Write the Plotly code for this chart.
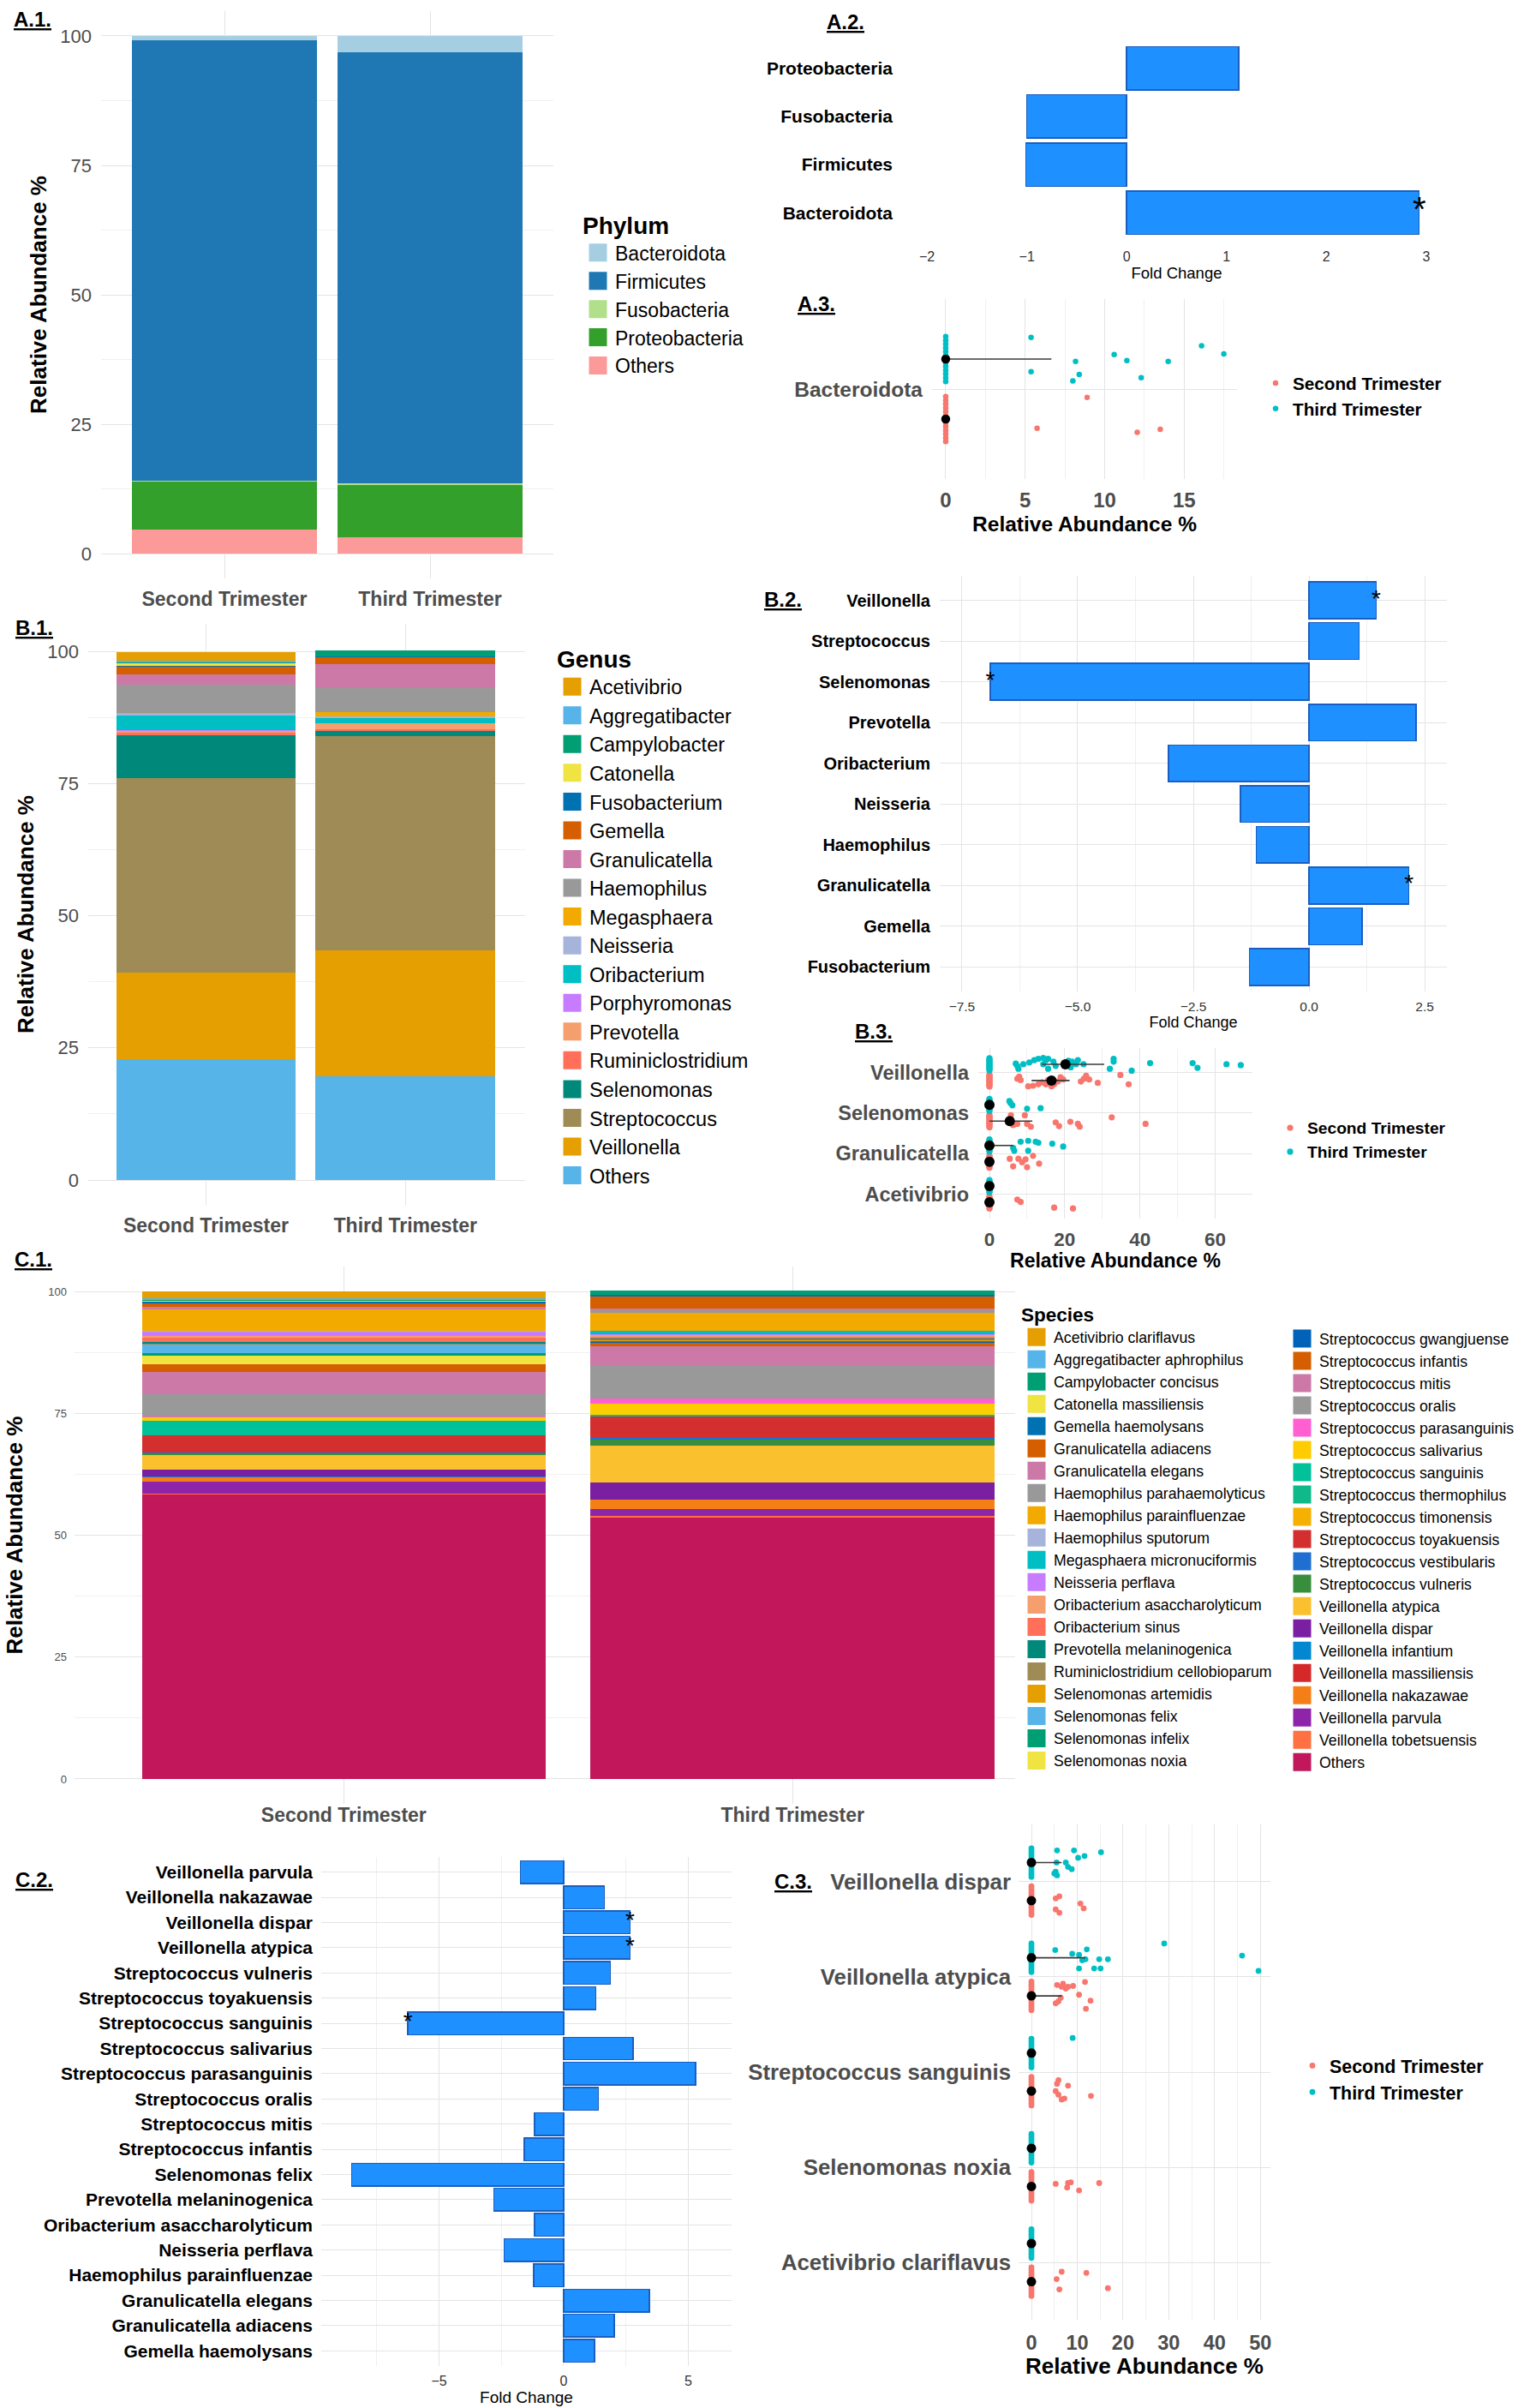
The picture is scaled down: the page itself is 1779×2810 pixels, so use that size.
import plotly.graph_objects as go

W, H = 1779, 2810
FONT = "Liberation Sans, Arial, Helvetica, sans-serif"
GRAY = "#4D4D4D"
GRID = "#E4E4E4"
GRID_MINOR = "#F0F0F0"
BAR_BLUE = "#1E90FF"
BAR_EDGE = "#1A5FC0"
SECOND_COLOR = "#F8766D"
THIRD_COLOR = "#00BFC4"

TRIMESTERS = ["Second Trimester", "Third Trimester"]

# ---------------- A.1 phylum composition ----------------
PHYLA = ["Bacteroidota", "Firmicutes", "Fusobacteria", "Proteobacteria", "Others"]
PHYLUM_COLORS = ["#A6CEE3", "#1F78B4", "#B2DF8A", "#33A02C", "#FB9A99"]
PHYLUM_SECOND = [0.9, 85.0, 0.1, 9.4, 4.6]
PHYLUM_THIRD = [3.2, 83.3, 0.2, 10.2, 3.1]

# ---------------- A.2 phylum fold change ----------------
PHYLUM_FC_NAMES = ["Proteobacteria", "Fusobacteria", "Firmicutes", "Bacteroidota"]
PHYLUM_FC = [1.12, -1.00, -1.01, 2.93]
PHYLUM_SIG = [False, False, False, True]

# ---------------- B.1 genus composition ----------------
GENERA = ["Acetivibrio", "Aggregatibacter", "Campylobacter", "Catonella", "Fusobacterium",
          "Gemella", "Granulicatella", "Haemophilus", "Megasphaera", "Neisseria",
          "Oribacterium", "Porphyromonas", "Prevotella", "Ruminiclostridium",
          "Selenomonas", "Streptococcus", "Veillonella", "Others"]
GENUS_COLORS = ["#E69F00", "#56B4E9", "#009E73", "#F0E442", "#0072B2", "#D55E00",
                "#CC79A7", "#999999", "#F2A900", "#A6B4DC", "#00BFC4", "#C77CFF",
                "#F59E6E", "#FF6F59", "#00897B", "#9E8B55", "#E69F00", "#56B4E9"]
GENUS_SECOND = [1.6, 0.3, 0.2, 0.5, 0.2, 1.4, 2.0, 5.3, 0.1, 0.4, 2.8, 0.1, 0.4, 0.5,
                8.1, 36.8, 16.4, 22.8]
GENUS_THIRD = [0.0, 0.0, 1.0, 0.0, 0.1, 1.4, 4.5, 4.6, 0.8, 0.3, 1.0, 0.0, 1.1, 0.3,
               1.1, 40.4, 23.9, 19.6]

# ---------------- B.2 genus fold change ----------------
GENUS_FC_NAMES = ["Veillonella", "Streptococcus", "Selenomonas", "Prevotella", "Oribacterium",
                  "Neisseria", "Haemophilus", "Granulicatella", "Gemella", "Fusobacterium"]
GENUS_FC = [1.45, 1.08, -6.89, 2.31, -3.04, -1.48, -1.14, 2.16, 1.15, -1.29]
GENUS_SIG = [True, False, True, False, False, False, False, True, False, False]

# ---------------- C.1 species composition ----------------
SPECIES = ["Acetivibrio clariflavus", "Aggregatibacter aphrophilus", "Campylobacter concisus",
           "Catonella massiliensis", "Gemella haemolysans", "Granulicatella adiacens",
           "Granulicatella elegans", "Haemophilus parahaemolyticus", "Haemophilus parainfluenzae",
           "Haemophilus sputorum", "Megasphaera micronuciformis", "Neisseria perflava",
           "Oribacterium asaccharolyticum", "Oribacterium sinus", "Prevotella melaninogenica",
           "Ruminiclostridium cellobioparum", "Selenomonas artemidis", "Selenomonas felix",
           "Selenomonas infelix", "Selenomonas noxia", "Streptococcus gwangjuense",
           "Streptococcus infantis", "Streptococcus mitis", "Streptococcus oralis",
           "Streptococcus parasanguinis", "Streptococcus salivarius", "Streptococcus sanguinis",
           "Streptococcus thermophilus", "Streptococcus timonensis", "Streptococcus toyakuensis",
           "Streptococcus vestibularis", "Streptococcus vulneris", "Veillonella atypica",
           "Veillonella dispar", "Veillonella infantium", "Veillonella massiliensis",
           "Veillonella nakazawae", "Veillonella parvula", "Veillonella tobetsuensis", "Others"]
SPECIES_COLORS = ["#E69F00", "#56B4E9", "#009E73", "#F0E442", "#0072B2", "#D55E00",
                  "#CC79A7", "#999999", "#F2A900", "#A6B4DC", "#00BFC4", "#C77CFF",
                  "#F59E6E", "#FF6F59", "#00897B", "#9E8B55", "#E69F00", "#56B4E9",
                  "#009E73", "#F0E442", "#0062B8", "#D55E00", "#CC79A7", "#999999",
                  "#FF5FD0", "#FFCC00", "#00C19A", "#10B98A", "#F5B000", "#D32F2F",
                  "#1F6FD1", "#388E3C", "#FBC02D", "#7B1FA2", "#0288D1", "#D62828",
                  "#F57F17", "#8E24AA", "#FF7043", "#C2185B"]
SPECIES_SECOND = [1.4, 0.2, 0.2, 0.3, 0.2, 0.8, 0.5, 0.05, 4.5, 0.05, 0.05, 0.8, 0.3, 1.0,
                  0.4, 0.05, 0.05, 1.8, 0.6, 1.6, 0.05, 1.7, 4.5, 4.55, 0.15, 0.8, 2.7, 0.05,
                  0.05, 3.7, 0.05, 0.5, 2.9, 1.4, 0.05, 0.05, 1.0, 2.5, 0.05, 58.4]
SPECIES_THIRD = [0.0, 0.0, 0.8, 0.0, 0.2, 2.6, 0.4, 0.5, 3.7, 0.0, 0.6, 0.2, 0.4, 0.3,
                 0.1, 0.3, 0.1, 0.0, 0.2, 0.05, 0.05, 0.9, 3.8, 6.9, 1.1, 2.2, 0.1, 0.1,
                 0.1, 4.3, 0.5, 1.2, 7.6, 3.5, 0.0, 0.0, 2.0, 1.3, 0.3, 53.7]

# ---------------- C.2 species fold change ----------------
SPECIES_FC_NAMES = ["Veillonella parvula", "Veillonella nakazawae", "Veillonella dispar",
                    "Veillonella atypica", "Streptococcus vulneris", "Streptococcus toyakuensis",
                    "Streptococcus sanguinis", "Streptococcus salivarius",
                    "Streptococcus parasanguinis", "Streptococcus oralis", "Streptococcus mitis",
                    "Streptococcus infantis", "Selenomonas felix", "Prevotella melaninogenica",
                    "Oribacterium asaccharolyticum", "Neisseria perflava",
                    "Haemophilus parainfluenzae", "Granulicatella elegans",
                    "Granulicatella adiacens", "Gemella haemolysans"]
SPECIES_FC = [-1.74, 1.64, 2.66, 2.66, 1.87, 1.29, -6.25, 2.78, 5.29, 1.39, -1.16, -1.58,
              -8.51, -2.80, -1.16, -2.39, -1.20, 3.44, 2.03, 1.24]
SPECIES_SIG = [False, False, True, True, False, False, True, False, False, False, False,
               False, False, False, False, False, False, False, False, False]

# ---------------- dot plots (A.3, B.3, C.3) ----------------
# samples with zero abundance, jitter offsets (category units)
ZERO_JITTER = [-0.15, -0.125, -0.1, -0.075, -0.05, -0.025, 0.0, 0.025, 0.05, 0.075, 0.1,
               0.125, 0.15]

A3_CATS = ["Bacteroidota"]
A3_SECOND_VALUES = [[8.9, 5.75, 12.05, 13.5]]
A3_SECOND_JITTER = [[-0.145, 0.061, 0.089, 0.068]]
A3_THIRD_VALUES = [[5.37, 5.37, 8.0, 8.17, 8.4, 10.6, 11.4, 12.3, 14.0, 16.1, 17.5]]
A3_THIRD_JITTER = [[-0.145, 0.084, 0.145, 0.016, 0.103, -0.03, 0.01, 0.124, 0.016, -0.089,
                    -0.035]]
A3_SECOND_SUMMARY = [[0, 0, 0]]          # centre, low, high
A3_THIRD_SUMMARY = [[0, 0, 6.65]]

B3_CATS = ["Veillonella", "Selenomonas", "Granulicatella", "Acetivibrio"]
B3_SECOND_VALUES = [
    [7.4, 7.9, 8.3, 10.3, 11.6, 13.0, 14.0, 15.0, 15.6, 16.5, 17.2, 18.2, 18.9, 19.6, 24.3,
     25.1, 25.7, 26.5, 28.8, 34.8, 37.0],
    [5.7, 6.3, 7.4, 9.4, 10.0, 11.0, 17.6, 18.5, 21.5, 23.5, 24.0, 32.5, 41.5],
    [5.4, 6.3, 7.7, 8.7, 9.6, 10.0, 11.6, 13.2],
    [7.4, 8.3, 17.2, 22.2]]
B3_SECOND_JITTER = [
    [-0.046, -0.095, -0.011, 0.143, 0.129, 0.094, 0.045, 0.094, -0.011, 0.143, 0.094, 0.024,
     -0.081, -0.025, 0.024, -0.046, -0.116, -0.025, 0.059, -0.137, 0.094],
    [-0.144, 0.1, 0.066, -0.144, 0.066, 0.136, 0.031, 0.122, 0.017, 0.066, 0.136, -0.095,
     0.066],
    [-0.074, 0.115, -0.074, 0.01, -0.06, 0.136, -0.144, 0.045],
    [-0.067, -0.011, 0.129, 0.15]]
B3_THIRD_VALUES = [
    [7.0, 7.4, 7.7, 9.0, 10.6, 11.9, 13.0, 14.3, 15.0, 15.6, 14.3, 15.6, 17.0, 17.6, 21.0,
     21.6, 22.0, 23.0, 23.5, 25.0, 32.0, 33.0, 33.0, 37.8, 42.7, 54.0, 55.3, 63.0, 66.8],
    [5.3, 5.6, 6.1, 10.0, 13.6],
    [6.3, 6.6, 8.3, 10.3, 12.3, 13.0, 10.3, 16.7, 19.6],
    []]
B3_THIRD_JITTER = [
    [-0.017, 0.04, 0.11, 0.0, -0.045, -0.10, -0.136, -0.157, -0.10, -0.136, 0.0, 0.11, -0.066,
     0.04, -0.087, 0.074, -0.066, 0.0, -0.10, 0.0, 0.11, -0.136, -0.066, 0.158, -0.03, -0.03,
     0.088, 0.0, 0.02],
    [-0.094, -0.045, 0.011, 0.095, 0.081],
    [0.06, 0.13, -0.094, -0.115, -0.094, -0.066, 0.13, -0.045, 0.025],
    []]
B3_SECOND_SUMMARY = [[16.5, 11.2, 21.3], [5.4, 0, 11.4], [0, 0, 0], [0, 0, 0]]
B3_THIRD_SUMMARY = [[20.2, 14.0, 30.5], [0, 0, 0], [0, 0, 6.3], [0, 0, 0]]

C3_CATS = ["Veillonella dispar", "Veillonella atypica", "Streptococcus sanguinis",
           "Selenomonas noxia", "Acetivibrio clariflavus"]
C3_SECOND_VALUES = [
    [5.3, 6.1, 10.7, 11.4, 5.3, 6.1],
    [5.6, 6.6, 6.9, 7.5, 8.0, 9.1, 11.7, 10.4, 12.9, 11.9, 6.4, 5.9, 5.3],
    [5.9, 5.6, 8.0, 5.3, 5.9, 6.6, 7.2, 13.0],
    [5.3, 8.0, 8.6, 7.8, 10.4, 14.8],
    [6.6, 12.0, 5.5, 6.1, 16.7]]
C3_SECOND_JITTER = [
    [-0.023, -0.046, 0.031, 0.081, 0.092, 0.127],
    [-0.115, -0.096, -0.127, -0.077, -0.096, -0.104, -0.146, -0.012, 0.05, 0.135, 0.019,
     0.058, 0.077],
    [-0.115, -0.077, -0.058, 0.0, 0.038, 0.088, 0.077, 0.05],
    [-0.027, -0.035, -0.042, 0.012, 0.042, -0.035],
    [-0.104, -0.092, -0.027, 0.081, 0.069]]
C3_THIRD_VALUES = [
    [5.6, 9.3, 10.2, 11.6, 15.2, 5.5, 7.5, 8.0, 8.8, 5.3, 5.6, 5.0],
    [29.0, 5.2, 8.9, 10.4, 12.1, 11.1, 11.8, 14.8, 16.7, 46.0, 10.4, 13.7, 15.1, 49.6],
    [9.0],
    [],
    []]
C3_THIRD_JITTER = [
    [-0.127, -0.127, -0.05, -0.069, -0.108, 0.0, 0.0, 0.046, 0.069, 0.096, 0.135, 0.115],
    [-0.15, -0.081, -0.042, -0.031, -0.088, 0.027, 0.015, 0.015, 0.015, -0.023, 0.112,
     0.112, 0.112, 0.138],
    [-0.158],
    [],
    []]
C3_SECOND_SUMMARY = [[0, 0, 0], [0, 0, 6.6], [0, 0, 0], [0, 0, 0], [0, 0, 0]]
C3_THIRD_SUMMARY = [[0, 0, 6.6], [0, 0, 11.8], [0, 0, 0], [0, 0, 0], [0, 0, 0]]

PANEL_LABELS = ["A.1.", "A.2.", "A.3.", "B.1.", "B.2.", "B.3.", "C.1.", "C.2.", "C.3."]


# =====================================================================
def fnt(size, color="black", bold=False):
    d = dict(family=FONT, size=size, color=color)
    if bold:
        d["weight"] = "bold"
    return d


def xdom(l, r):
    return [l / W, r / W]


def ydom(t, b):
    return [1 - b / H, 1 - t / H]


def refs(k):
    return ("x", "y") if k == 1 else (f"x{k}", f"y{k}")


fig = go.Figure()


def stacked_panel(k, names, colors, second, third, legends, split=None):
    xr, yr = refs(k)
    for i in reversed(range(len(names))):
        fig.add_trace(go.Bar(
            x=TRIMESTERS, y=[second[i], third[i]], name=names[i], width=0.9,
            marker=dict(color=colors[i], line=dict(width=0)), showlegend=False,
            xaxis=xr, yaxis=yr, hovertemplate="%{x}<br>" + names[i] + ": %{y:.1f}%<extra></extra>"))
    for i in range(len(names)):
        lg = legends[0] if (split is None or i < split) else legends[1]
        fig.add_trace(go.Scatter(
            x=[None], y=[None], mode="markers", name=names[i], legend=lg,
            marker=dict(symbol="square", size=16, color=colors[i],
                        line=dict(color=colors[i], width=5)),
            xaxis=xr, yaxis=yr, hoverinfo="skip"))


def fc_panel(k, names, values, sig, star_size):
    xr, yr = refs(k)
    fig.add_trace(go.Bar(
        y=names, x=values, orientation="h", width=0.9,
        marker=dict(color=BAR_BLUE, line=dict(color=BAR_EDGE, width=1.5)),
        showlegend=False, xaxis=xr, yaxis=yr,
        hovertemplate="%{y}: %{x:.2f}<extra></extra>"))
    sx = [v for v, s in zip(values, sig) if s]
    sy = [n for n, s in zip(names, sig) if s]
    fig.add_trace(go.Scatter(
        x=sx, y=sy, mode="text", text=["*"] * len(sx), textposition="middle center",
        textfont=fnt(star_size), showlegend=False, xaxis=xr, yaxis=yr, hoverinfo="skip"))


def dot_panel(k, cats, sv, sj, tv, tj, ssum, tsum, legend_id, msize=6.5, bsize=11):
    xr, yr = refs(k)
    groups = [("Second Trimester", SECOND_COLOR, 0.2, sv, sj),
              ("Third Trimester", THIRD_COLOR, -0.2, tv, tj)]
    for name, color, dodge, vals, jits in groups:
        xs, ys = [], []
        for i in range(len(cats)):
            for z in ZERO_JITTER:
                xs.append(0.0)
                ys.append(i + dodge + z)
            for v, j in zip(vals[i], jits[i]):
                xs.append(v)
                ys.append(i + dodge + j)
        fig.add_trace(go.Scatter(
            x=xs, y=ys, mode="markers", name=name, legend=legend_id,
            marker=dict(color=color, size=msize), xaxis=xr, yaxis=yr,
            hovertemplate=name + ": %{x:.1f}%<extra></extra>"))
    for summ, dodge in [(ssum, 0.2), (tsum, -0.2)]:
        fig.add_trace(go.Scatter(
            x=[s[0] for s in summ], y=[i + dodge for i in range(len(cats))],
            mode="markers", marker=dict(color="black", size=bsize),
            error_x=dict(type="data", symmetric=False,
                         array=[s[2] - s[0] for s in summ],
                         arrayminus=[s[0] - s[1] for s in summ],
                         color="#3A3A3A", thickness=1.6, width=0),
            showlegend=False, xaxis=xr, yaxis=yr, hoverinfo="skip"))


# ---- traces ----
stacked_panel(1, PHYLA, PHYLUM_COLORS, PHYLUM_SECOND, PHYLUM_THIRD, ["legend"])
fc_panel(2, PHYLUM_FC_NAMES, PHYLUM_FC, PHYLUM_SIG, 40)
dot_panel(3, A3_CATS, A3_SECOND_VALUES, A3_SECOND_JITTER, A3_THIRD_VALUES, A3_THIRD_JITTER,
          A3_SECOND_SUMMARY, A3_THIRD_SUMMARY, "legend4", msize=6.5, bsize=10.5)
stacked_panel(4, GENERA, GENUS_COLORS, GENUS_SECOND, GENUS_THIRD, ["legend2"])
fc_panel(5, GENUS_FC_NAMES, GENUS_FC, GENUS_SIG, 28)
dot_panel(6, B3_CATS, B3_SECOND_VALUES, B3_SECOND_JITTER, B3_THIRD_VALUES, B3_THIRD_JITTER,
          B3_SECOND_SUMMARY, B3_THIRD_SUMMARY, "legend5", msize=7.2, bsize=12)
stacked_panel(7, SPECIES, SPECIES_COLORS, SPECIES_SECOND, SPECIES_THIRD,
              ["legend3", "legend7"], split=20)
fc_panel(8, SPECIES_FC_NAMES, SPECIES_FC, SPECIES_SIG, 28)
dot_panel(9, C3_CATS, C3_SECOND_VALUES, C3_SECOND_JITTER, C3_THIRD_VALUES, C3_THIRD_JITTER,
          C3_SECOND_SUMMARY, C3_THIRD_SUMMARY, "legend6", msize=6.8, bsize=11)


# ---- axes ----
def ax(**kw):
    d = dict(showline=False, zeroline=False, ticks="", showgrid=True, gridcolor=GRID,
             gridwidth=1, fixedrange=True, automargin=False)
    d.update(kw)
    return d


def minor(dt):
    return dict(dtick=dt, tick0=0, showgrid=True, gridcolor=GRID_MINOR, gridwidth=1)


layout = dict(
    width=W, height=H, margin=dict(l=0, r=0, t=0, b=0),
    paper_bgcolor="white", plot_bgcolor="white", barmode="stack",
    font=fnt(14), hovermode="closest",
)

# A.1
layout["xaxis"] = ax(domain=xdom(118, 646), anchor="y", type="category", range=[-0.6, 1.6],
                     tickfont=fnt(23, GRAY, True), ticklabelstandoff=8)
layout["yaxis"] = ax(domain=ydom(13, 675), anchor="x", range=[-4.8, 104.8],
                     tickvals=[0, 25, 50, 75, 100], tickfont=fnt(22, GRAY), minor=minor(12.5),
                     ticklabelstandoff=10,
                     title=dict(text="Relative Abundance %", font=fnt(26, "black", True), standoff=8))
# A.2
layout["xaxis2"] = ax(domain=xdom(1053, 1694), anchor="y2", range=[-2.25, 3.25],
                      tickvals=[-2, -1, 0, 1, 2, 3], showgrid=False, tickfont=fnt(16, "#333333"),
                      ticklabelstandoff=6,
                      title=dict(text="Fold Change", font=fnt(18.5), standoff=5))
layout["yaxis2"] = ax(domain=ydom(46, 282), anchor="x2", type="category",
                      categoryorder="array", categoryarray=PHYLUM_FC_NAMES,
                      range=[len(PHYLUM_FC_NAMES) - 0.4, -0.6], showgrid=False,
                      tickfont=fnt(21, "black", True), ticklabelstandoff=10)
# A.3
layout["xaxis3"] = ax(domain=xdom(1088, 1444), anchor="y3", range=[-0.86, 18.33],
                      tickvals=[0, 5, 10, 15], minor=minor(2.5), tickfont=fnt(24, GRAY, True),
                      ticklabelstandoff=8,
                      title=dict(text="Relative Abundance %", font=fnt(24.5, "black", True), standoff=6))
layout["yaxis3"] = ax(domain=ydom(349, 559), anchor="x3", range=[len(A3_CATS) - 0.4, -0.6],
                      tickvals=list(range(len(A3_CATS))), ticktext=A3_CATS,
                      tickfont=fnt(24.5, GRAY, True), ticklabelstandoff=10)
# B.1
layout["xaxis4"] = ax(domain=xdom(103, 613), anchor="y4", type="category", range=[-0.59, 1.6],
                      tickfont=fnt(23, GRAY, True), ticklabelstandoff=8)
layout["yaxis4"] = ax(domain=ydom(728, 1406), anchor="x4", range=[-4.7, 105.2],
                      tickvals=[0, 25, 50, 75, 100], tickfont=fnt(22, GRAY), minor=minor(12.5),
                      ticklabelstandoff=10,
                      title=dict(text="Relative Abundance %", font=fnt(26, "black", True), standoff=8))
# B.2
layout["xaxis5"] = ax(domain=xdom(1097, 1689), anchor="y5", range=[-7.98, 2.98],
                      tickvals=[-7.5, -5, -2.5, 0, 2.5], tickformat=".1f", minor=minor(1.25),
                      tickfont=fnt(15.5, "#333333"), ticklabelstandoff=6,
                      title=dict(text="Fold Change", font=fnt(18), standoff=4))
layout["yaxis5"] = ax(domain=ydom(672, 1157), anchor="x5", type="category",
                      categoryorder="array", categoryarray=GENUS_FC_NAMES,
                      range=[len(GENUS_FC_NAMES) - 0.4, -0.6],
                      tickfont=fnt(20, "black", True), ticklabelstandoff=10)
# B.3
layout["xaxis6"] = ax(domain=xdom(1142, 1462), anchor="y6", range=[-2.96, 69.9],
                      tickvals=[0, 20, 40, 60], minor=minor(10), tickfont=fnt(22.5, GRAY, True),
                      ticklabelstandoff=8,
                      title=dict(text="Relative Abundance %", font=fnt(23, "black", True), standoff=5))
layout["yaxis6"] = ax(domain=ydom(1223, 1422), anchor="x6", range=[len(B3_CATS) - 0.4, -0.6],
                      tickvals=list(range(len(B3_CATS))), ticktext=B3_CATS,
                      tickfont=fnt(23.5, GRAY, True), ticklabelstandoff=10)
# C.1
layout["xaxis7"] = ax(domain=xdom(87, 1185), anchor="y7", type="category", range=[-0.6, 1.496],
                      tickfont=fnt(23, GRAY, True), ticklabelstandoff=-3)
layout["yaxis7"] = ax(domain=ydom(1478, 2105), anchor="x7", range=[-5.1, 105.1],
                      tickvals=[0, 25, 50, 75, 100], tickfont=fnt(13, GRAY), minor=minor(12.5),
                      ticklabelstandoff=8,
                      title=dict(text="Relative Abundance %", font=fnt(26, "black", True), standoff=22))
# C.2
layout["xaxis8"] = ax(domain=xdom(375, 854), anchor="y8", range=[-9.73, 6.74],
                      tickvals=[-5, 0, 5], minor=minor(2.5), tickfont=fnt(16, "#333333"),
                      ticklabelstandoff=6,
                      title=dict(text="Fold Change", font=fnt(19), standoff=4))
layout["yaxis8"] = ax(domain=ydom(2167, 2761), anchor="x8", type="category",
                      categoryorder="array", categoryarray=SPECIES_FC_NAMES,
                      range=[len(SPECIES_FC_NAMES) - 0.4, -0.6],
                      tickfont=fnt(21, "black", True), ticklabelstandoff=9)
# C.3
layout["xaxis9"] = ax(domain=xdom(1189, 1483), anchor="y9", range=[-2.81, 52.2],
                      tickvals=[0, 10, 20, 30, 40, 50], minor=minor(5),
                      tickfont=fnt(23.5, GRAY, True), ticklabelstandoff=10,
                      title=dict(text="Relative Abundance %", font=fnt(26, "black", True), standoff=5))
layout["yaxis9"] = ax(domain=ydom(2129, 2707), anchor="x9", range=[len(C3_CATS) - 0.4, -0.6],
                      tickvals=list(range(len(C3_CATS))), ticktext=C3_CATS,
                      tickfont=fnt(25.8, GRAY, True), ticklabelstandoff=8)


# ---- legends ----
def leg(x, y, size, title=None, tsize=None, bold=False):
    d = dict(x=x / W, y=1 - y / H, xanchor="left", yanchor="top", bgcolor="rgba(0,0,0,0)",
             borderwidth=0, font=fnt(size, "black", bold), tracegroupgap=0,
             traceorder="normal", itemclick=False, itemdoubleclick=False)
    if title:
        d["title"] = dict(text=title, font=fnt(tsize, "black", True))
    return d


layout["legend"] = leg(678, 237, 23, "Phylum", 28)
layout["legend2"] = leg(648, 743, 23.5, "Genus", 28)
layout["legend3"] = leg(1190, 1513, 17.7, "Species", 22.5)
layout["legend7"] = leg(1500, 1544, 17.7)
layout["legend4"] = leg(1469, 427, 20.7, bold=True)
layout["legend5"] = leg(1486, 1297, 19.2, bold=True)
layout["legend6"] = leg(1512, 2390, 21.4, bold=True)

# ---- panel labels ----
LABEL_POS = [(14, 23), (963, 25), (929, 354), (16, 732), (890, 700), (996, 1203),
             (15, 1469), (16, 2193), (902, 2195)]
anns = []
for lab, (lx, ly) in zip(PANEL_LABELS, LABEL_POS):
    f = fnt(24, "black", True)
    f["lineposition"] = "under"
    anns.append(dict(text=lab, x=lx / W, y=1 - ly / H, xref="paper", yref="paper",
                     xanchor="left", yanchor="middle", showarrow=False, font=f))
layout["annotations"] = anns

fig.update_layout(**layout)
fig.write_html("out.html", config={"displayModeBar": False},
               post_script="document.body.style.margin='0px';")
